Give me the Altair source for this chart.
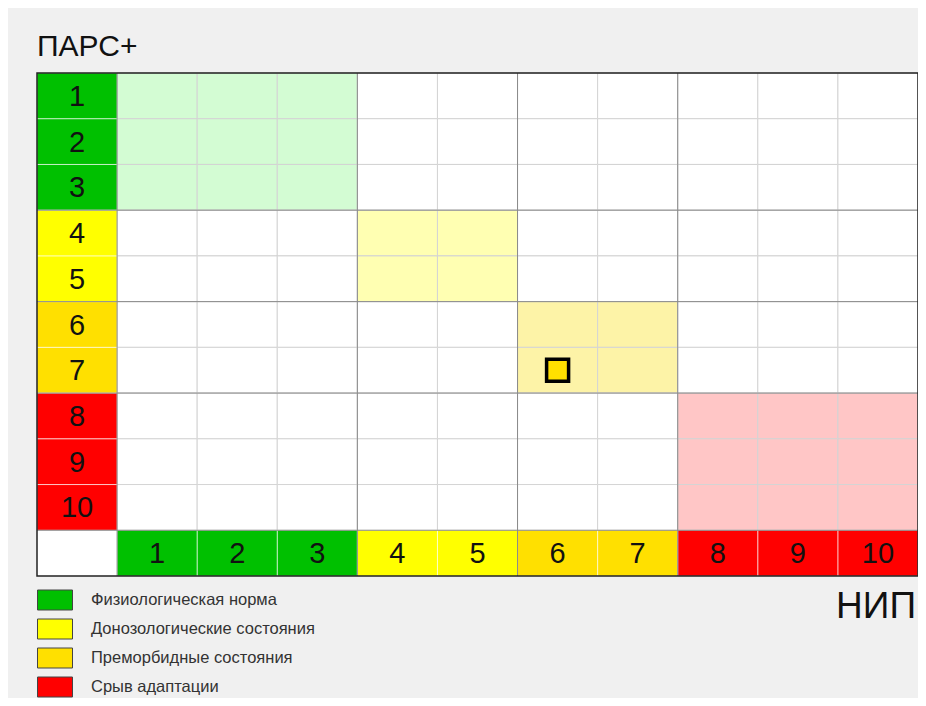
import altair as alt
import pandas as pd

# ---- data ----
ranks = [1, 2, 3, 4, 5, 6, 7, 8, 9, 10]
zone_names = ["Физиологическая норма", "Донозологические состояния",
              "Преморбидные состояния", "Срыв адаптации"]
zone_of_rank = [0, 0, 0, 1, 1, 2, 2, 3, 3, 3]
zone_colors = ["#00c000", "#ffff00", "#ffe000", "#ff0000"]
zone_light = ["#d3fcd3", "#ffffb2", "#fdf3a7", "#ffc6c6"]
zone_edges = [3, 5, 7]
point_nip = [6]
point_pars = [7]
y_title = ["ПАРС+"]
x_title = ["НИП"]

n = len(ranks)
FONT = "Liberation Sans"

# ---- tables ----
body = pd.DataFrame([
    {"x0": c, "x1": c + 1, "y0": r - 1, "y1": r,
     "fill": zone_light[zone_of_rank[r - 1]] if zone_of_rank[r - 1] == zone_of_rank[c - 1] else "#ffffff"}
    for r in ranks for c in ranks
])

head_rows = []
for r in ranks:
    head_rows.append({"x0": 0, "x1": 1, "y0": r - 1, "y1": r, "xc": 0.5, "yc": r - 0.5,
                      "zone": zone_names[zone_of_rank[r - 1]], "label": str(r)})
for c in ranks:
    head_rows.append({"x0": c, "x1": c + 1, "y0": n, "y1": n + 1, "xc": c + 0.5, "yc": n + 0.5,
                      "zone": zone_names[zone_of_rank[c - 1]], "label": str(c)})
head = pd.DataFrame(head_rows)

corner = pd.DataFrame([{"x0": 0, "x1": 1, "y0": n, "y1": n + 1}])
border = pd.DataFrame([{"x0": 0, "x1": n + 1, "y0": 0, "y1": n + 1}])

vrules = pd.DataFrame([{"x0": e, "y0": 0, "y1": n + 1} for e in [1] + [z + 1 for z in zone_edges]])
hrules = pd.DataFrame([{"y0": e, "x0": 0, "x1": n + 1} for e in zone_edges + [n]])

marker = pd.DataFrame({"xc": [v + 0.5 for v in point_nip], "yc": [v - 0.5 for v in point_pars]})
ytitle_df = pd.DataFrame({"xc": [0], "yc": [0], "t": y_title})
xtitle_df = pd.DataFrame({"xc": [n + 1], "yc": [n + 1], "t": x_title})

xs = alt.Scale(domain=[0, n + 1], nice=False, zero=False)
ys = alt.Scale(domain=[0, n + 1], nice=False, zero=False, reverse=True)

def X(f):
    return alt.X(f, scale=xs, axis=None)

def Y(f):
    return alt.Y(f, scale=ys, axis=None)

body_layer = alt.Chart(body).mark_rect(stroke="#d4d4d4", strokeWidth=1).encode(
    x=X("x0:Q"), x2="x1:Q", y=Y("y0:Q"), y2="y1:Q",
    color=alt.Color("fill:N", scale=None))

head_layer = alt.Chart(head).mark_rect().encode(
    x=X("x0:Q"), x2="x1:Q", y=Y("y0:Q"), y2="y1:Q",
    fill=alt.Fill("zone:N", scale=alt.Scale(domain=zone_names, range=zone_colors),
                  legend=alt.Legend(title=None, orient="none", legendX=7.5, legendY=516.5,
                                    direction="vertical",
                                    symbolType="M-1.75,-1H1.75V1H-1.75Z", symbolSize=400,
                                    symbolStrokeColor="#444", symbolStrokeWidth=1,
                                    labelFontSize=16.5, labelFont=FONT, labelColor="#333",
                                    labelOffset=25.5, rowPadding=4, padding=0, labelLimit=400)))

head_grid = alt.Chart(head).mark_rect(fill="transparent", stroke="#ffffff",
                                      strokeOpacity=0.45, strokeWidth=1).encode(
    x=X("x0:Q"), x2="x1:Q", y=Y("y0:Q"), y2="y1:Q")

corner_layer = alt.Chart(corner).mark_rect(fill="#ffffff").encode(
    x=X("x0:Q"), x2="x1:Q", y=Y("y0:Q"), y2="y1:Q")

vrule_layer = alt.Chart(vrules).mark_rule(color="#8a8a8a", strokeWidth=1).encode(
    x=X("x0:Q"), y=Y("y0:Q"), y2="y1:Q")
hrule_layer = alt.Chart(hrules).mark_rule(color="#8a8a8a", strokeWidth=1).encode(
    y=Y("y0:Q"), x=X("x0:Q"), x2="x1:Q")

border_layer = alt.Chart(border).mark_rect(fill="transparent", stroke="#222222",
                                           strokeWidth=1.5).encode(
    x=X("x0:Q"), x2="x1:Q", y=Y("y0:Q"), y2="y1:Q")

labels = alt.Chart(head).mark_text(font=FONT, fontSize=29, color="#111111",
                                   baseline="middle", align="center", dy=1).encode(
    x=X("xc:Q"), y=Y("yc:Q"), text="label:N")

marker_layer = alt.Chart(marker).mark_point(shape="square", size=484, filled=True,
                                            fill="#ffe000", stroke="#000000",
                                            strokeWidth=3.5, opacity=1).encode(
    x=X("xc:Q"), y=Y("yc:Q"))

ytitle_layer = alt.Chart(ytitle_df).mark_text(font=FONT, fontSize=30, color="#111111",
                                              align="left", baseline="alphabetic", dy=-17).encode(
    x=X("xc:Q"), y=Y("yc:Q"), text="t:N")

xtitle_layer = alt.Chart(xtitle_df).mark_text(font=FONT, fontSize=37, color="#111111",
                                              align="right", baseline="alphabetic", dx=-2, dy=42).encode(
    x=X("xc:Q"), y=Y("yc:Q"), text="t:N")

chart = alt.layer(
    body_layer, head_layer, head_grid, corner_layer, vrule_layer, hrule_layer,
    border_layer, labels, marker_layer, ytitle_layer, xtitle_layer
).properties(
    width=881, height=503,
    autosize=alt.AutoSizeParams(type="none"),
    padding={"left": 29, "top": 65, "right": 0, "bottom": 122},
    background="#f0f0f0",
).configure_view(strokeWidth=0)

chart.save("out.html", embed_options={"renderer": "svg", "actions": False})
